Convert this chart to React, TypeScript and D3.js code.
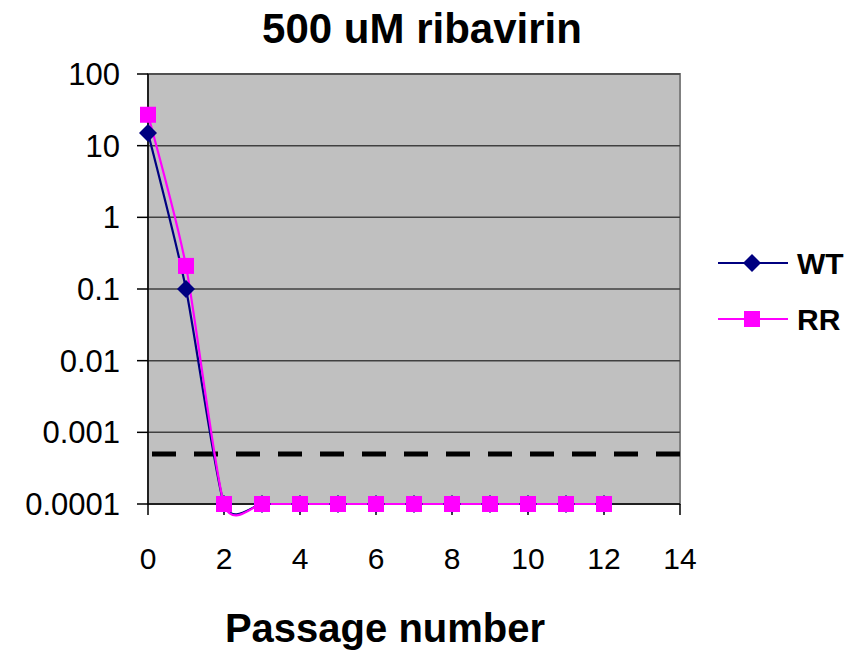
import { useEffect, useRef } from "react";
import * as d3 from "d3";

const passages = [0, 1, 2, 3, 4, 5, 6, 7, 8, 9, 10, 11, 12];
const wtValues = [15, 0.1, 0.0001, 0.0001, 0.0001, 0.0001, 0.0001, 0.0001, 0.0001, 0.0001, 0.0001, 0.0001, 0.0001];
const rrValues = [27, 0.21, 0.0001, 0.0001, 0.0001, 0.0001, 0.0001, 0.0001, 0.0001, 0.0001, 0.0001, 0.0001, 0.0001];
const detectionLimit = 0.0005;
const yTicks = [100, 10, 1, 0.1, 0.01, 0.001, 0.0001];
const xTicks = [0, 2, 4, 6, 8, 10, 12, 14];

const width = 862;
const height = 653;

// square-ish diamond like Excel's marker
const diamondPath = (r: number) => `M0,${-r}L${r},0L0,${r}L${-r},0Z`;
const squarePath = (r: number) => `M${-r},${-r}H${r}V${r}H${-r}Z`;

const App = () => {
  const ref = useRef<SVGSVGElement>(null);

  useEffect(() => {
    const svg = d3.select(ref.current);
    svg.selectAll("*").remove();

    const left = 148, right = 680, top = 74, bottom = 504;
    const x = d3.scaleLinear().domain([0, 14]).range([left, right]);
    const y = d3.scaleLog().domain([0.0001, 100]).range([bottom, top]);
    const font = "Arial, 'Liberation Sans', sans-serif";

    svg
      .append("rect")
      .attr("x", left)
      .attr("y", top)
      .attr("width", right - left)
      .attr("height", bottom - top)
      .attr("fill", "#c0c0c0")
      .attr("stroke", "#808080")
      .attr("stroke-width", 2);

    // gridlines
    svg
      .selectAll("grid")
      .data(yTicks.slice(0, -1))
      .enter()
      .append("line")
      .attr("x1", left)
      .attr("x2", right)
      .attr("y1", (d) => y(d))
      .attr("y2", (d) => y(d))
      .attr("stroke", "#404040")
      .attr("stroke-width", 1.5);

    // axes
    const yAxis = svg.append("g").attr("transform", `translate(${left},0)`);
    yAxis
      .append("line")
      .attr("y1", top)
      .attr("y2", bottom)
      .attr("stroke", "#000")
      .attr("stroke-width", 1.5);
    yAxis
      .selectAll("tk")
      .data(yTicks)
      .enter()
      .append("line")
      .attr("x1", -11)
      .attr("x2", 0)
      .attr("y1", (d) => y(d))
      .attr("y2", (d) => y(d))
      .attr("stroke", "#000")
      .attr("stroke-width", 1.5);
    yAxis
      .selectAll("lbl")
      .data(yTicks)
      .enter()
      .append("text")
      .attr("x", -28)
      .attr("y", (d) => y(d))
      .attr("dy", "0.36em")
      .attr("text-anchor", "end")
      .style("font-family", font)
      .style("font-size", "31px")
      .text((d) => String(d));

    const xAxis = svg.append("g").attr("transform", `translate(0,${bottom})`);
    xAxis
      .append("line")
      .attr("x1", left)
      .attr("x2", right)
      .attr("stroke", "#000")
      .attr("stroke-width", 1.5);
    xAxis
      .selectAll("tk")
      .data(xTicks)
      .enter()
      .append("line")
      .attr("x1", (d) => x(d))
      .attr("x2", (d) => x(d))
      .attr("y1", 0)
      .attr("y2", 11)
      .attr("stroke", "#000")
      .attr("stroke-width", 1.5);
    xAxis
      .selectAll("lbl")
      .data(xTicks)
      .enter()
      .append("text")
      .attr("x", (d) => x(d))
      .attr("y", 65)
      .attr("text-anchor", "middle")
      .style("font-family", font)
      .style("font-size", "30px")
      .text((d) => String(d));

    // detection limit
    svg
      .append("line")
      .attr("x1", left + 4)
      .attr("x2", right)
      .attr("y1", y(detectionLimit))
      .attr("y2", y(detectionLimit))
      .attr("stroke", "#000")
      .attr("stroke-width", 5)
      .attr("stroke-dasharray", "24,18");

    const line = d3
      .line<number>()
      .x((_, i) => x(passages[i]))
      .y((d) => y(d))
      .curve(d3.curveCardinal.tension(0.35));

    const series = [
      { name: "WT", values: wtValues, color: "#000080", marker: diamondPath(9) },
      { name: "RR", values: rrValues, color: "#ff00ff", marker: squarePath(8) },
    ];

    series.forEach((s) => {
      svg
        .append("path")
        .attr("d", line(s.values))
        .attr("fill", "none")
        .attr("stroke", s.color)
        .attr("stroke-width", 2.2);
    });
    series.forEach((s) => {
      svg
        .selectAll("m" + s.name)
        .data(s.values)
        .enter()
        .append("path")
        .attr("d", s.marker)
        .attr("transform", (d, i) => `translate(${x(passages[i])},${y(d)})`)
        .attr("fill", s.color);
    });

    // legend
    const legend = svg.append("g");
    series.forEach((s, i) => {
      const ly = 263 + i * 56;
      legend
        .append("line")
        .attr("x1", 718)
        .attr("x2", 788)
        .attr("y1", ly)
        .attr("y2", ly)
        .attr("stroke", s.color)
        .attr("stroke-width", 2.2);
      legend
        .append("path")
        .attr("d", s.marker)
        .attr("transform", `translate(${752},${ly})`)
        .attr("fill", s.color);
      legend
        .append("text")
        .attr("x", 797)
        .attr("y", ly)
        .attr("dy", "0.36em")
        .style("font-family", font)
        .style("font-size", "30px")
        .style("font-weight", "bold")
        .text(s.name);
    });

    svg
      .append("text")
      .attr("x", 422)
      .attr("y", 43)
      .attr("text-anchor", "middle")
      .style("font-family", font)
      .style("font-size", "42px")
      .style("font-weight", "bold")
      .text("500 uM ribavirin");

    svg
      .append("text")
      .attr("x", 385)
      .attr("y", 642)
      .attr("text-anchor", "middle")
      .style("font-family", font)
      .style("font-size", "40px")
      .style("font-weight", "bold")
      .text("Passage number");
  }, []);

  return (
    <svg
      ref={ref}
      width={width}
      height={height}
      style={{ position: "absolute", left: 0, top: 0, background: "#fff" }}
    />
  );
};

export default App;
